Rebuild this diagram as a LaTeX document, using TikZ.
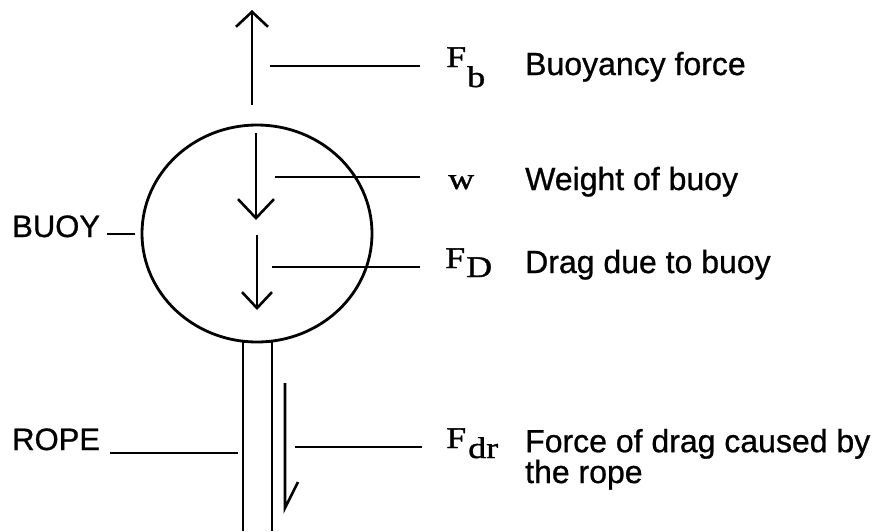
\documentclass[tikz,border=0pt]{standalone}
\usepackage{fontspec}
\setmainfont{Liberation Sans}[FakeBold=0.8]
\newfontfamily\symfont{Liberation Serif}[FakeStretch=1.2,FakeBold=1.2]
\usetikzlibrary{arrows.meta,shapes.geometric}
\begin{document}
\begin{tikzpicture}[x=1pt,y=-1pt,
  lbl/.style={anchor=base west, inner sep=0pt, font=\fontsize{31}{28}\selectfont},
  desc/.style={anchor=base west, inner sep=0pt, font=\fontsize{32}{28}\selectfont},
  sym/.style={anchor=base west, inner sep=0pt, font=\symfont\fontsize{30}{30}\selectfont},
  lead/.style={line width=2.6pt},
  ropeline/.style={line width=2pt},
  force/.style={line width=2.6pt, -{Straight Barb[length=15pt,width=32pt]}}]
\useasboundingbox (0,0) rectangle (887,531);

% buoy
\node[draw, ellipse, line width=2.8pt, minimum width=230pt, minimum height=217pt, inner sep=0pt] (buoy) at (257,233.5) {};

% rope
\coordinate (ropeL) at (243,531);
\coordinate (ropeR) at (272,531);
\draw[ropeline] (243,341) -- (ropeL);
\draw[ropeline] (272,341) -- (ropeR);
\draw[ropeline] (243,342) -- (272,342);

% forces
\coordinate (fbS) at (252,105);
\coordinate (fbE) at (252,10);
\draw[force] (fbS) -- (fbE);
\coordinate (wS) at (256,133);
\coordinate (wE) at (256,220);
\draw[line width=2.6pt, -{Straight Barb[length=19pt,width=36pt]}] (wS) -- (wE);
\coordinate (fdS) at (257,235);
\coordinate (fdE) at (257,310);
\draw[line width=2.6pt, -{Straight Barb[length=16pt,width=30pt]}] (fdS) -- (fdE);
\coordinate (frS) at (285,383);
\coordinate (frE) at (285,508);
\coordinate (frB) at (298,482);
\draw[lead, line join=miter] (frS) -- (frE) -- (frB);

% symbols
\node[sym] (sFb) at (446,67) {F\kern1pt\raisebox{-20pt}{b}};
\node[sym] (sW)  at (448,189) {w};
\node[sym] (sFD) at (445,268) {F\kern1pt\raisebox{-9pt}{D}};
\node[sym] (sFdr) at (446,448) {F\kern2pt\raisebox{-10pt}{dr}};

% descriptions
\node[desc] (tFb) at (525,75) {Buoyancy force};
\node[desc] (tW)  at (525,190) {Weight of buoy};
\node[desc] (tFD) at (525,273) {Drag due to buoy};
\node[desc, align=left] (tFdr) at (525,483) {Force of drag caused by\\the rope};

% left labels
\node[lbl] (tBuoy) at (12,237) {BUOY};
\node[lbl] (tRope) at (12,450) {ROPE};

% leaders
\coordinate (lFb) at (270,66);
\draw[lead] (lFb) -- (420,66) coordinate (lFbE);
\coordinate (lW) at (275,177);
\draw[lead] (lW) -- (420,177) coordinate (lWE);
\coordinate (lFD) at (272,267);
\draw[lead] (lFD) -- (420,267) coordinate (lFDE);
\coordinate (lFdr) at (295,447);
\draw[lead] (lFdr) -- (422,447) coordinate (lFdrE);
\coordinate (lBuoy) at (107,234);
\draw[lead] (lBuoy) -- (135,234) coordinate (lBuoyE);
\coordinate (lRope) at (110,453);
\draw[lead] (lRope) -- (238,453) coordinate (lRopeE);
\end{tikzpicture}
\end{document}
